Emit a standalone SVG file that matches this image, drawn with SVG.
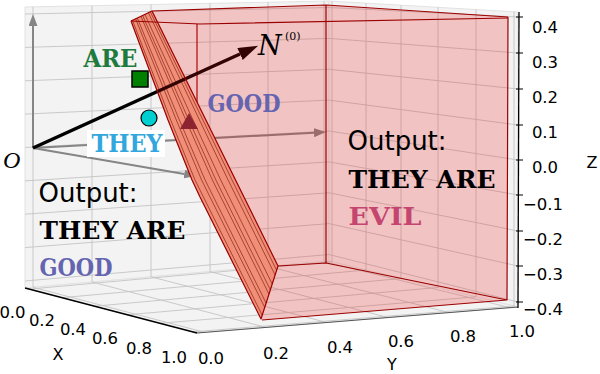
<svg xmlns="http://www.w3.org/2000/svg" width="600" height="374" viewBox="0 0 600 374">
<style>
.pane{fill:#f3f3f3;stroke:#e2e2e2;stroke-width:1}
.grid{stroke:#c4c4c4;stroke-width:0.9;fill:none}
.tick{font-family:"DejaVu Sans",sans-serif;font-size:16.5px;fill:#000;text-anchor:middle}
.axl{font-family:"DejaVu Sans",sans-serif;font-size:16px;fill:#000;text-anchor:middle}
.mono{font-family:"DejaVu Serif","Liberation Serif",serif;font-weight:bold;font-size:23.5px}
.out{font-family:"DejaVu Sans",sans-serif;font-size:26px;fill:#000}
.redge{stroke:#9b0000;stroke-width:1.2;fill:none;stroke-linejoin:round}
.stripe{stroke:#7a3a2a;stroke-width:0.8;fill:none}
.garrow{stroke:#858585;stroke-width:2;fill:none}
</style>
<defs>
<marker id="gh" markerUnits="userSpaceOnUse" markerWidth="13" markerHeight="9" refX="0" refY="4.5" orient="auto"><path d="M0,0 L12,4.5 L0,9 Z" fill="#858585"/></marker>
<marker id="kh" markerUnits="userSpaceOnUse" markerWidth="21" markerHeight="13" refX="0" refY="6.5" orient="auto"><path d="M0,0 L20,6.5 L0,13 Z" fill="#000"/></marker>
</defs>
<rect x="0" y="0" width="600" height="374" fill="#fff"/>
<g id="panes">
<polygon class="pane" points="25,7 329,1 329,261 25,288"/>
<polygon class="pane" points="329,1 518,12 518,307 329,261"/>
<polygon class="pane" points="25,288 197,333 518,307 329,261"/>
</g>
<g id="grid">
<path class="grid" d="M33,6.8V287.3M92,5.7V282M151,4.5V276.8M210,3.4V271.6M268,2.2V266.4M324,1.1V261.5"/>
<path class="grid" d="M25,281L329,254.5L518,302M25,247.6L329,223.6L518,266M25,214.2L329,192.8L518,231M25,180.9L329,161.9L518,195M25,147.5L329,131L518,160M25,114.1L329,100.1L518,125M25,80.8L329,69.3L518,89M25,47.4L329,38.4L518,53M25,14L329,7.5L518,17"/>
<path class="grid" d="M332,1.2L332,261.7M366,3.2L366,270M401,5.2L401,278.5M438,7.3L438,287.5M476,9.6L476,296.8M514,11.8L514,306"/>
<path class="grid" d="M29.3,289.1L332,261.7M62,297.7L366,270M94.7,306.2L401,278.5M127.3,314.8L438,287.5M160,323.3L476,296.8M192.7,331.9L514,306"/>
<path class="grid" d="M33,287.3L205,332.4M92,282L266,327.4M151,276.8L327,322.5M210,271.6L388,317.5M268,266.4L449,312.6M324,261.5L510,307.7"/>
</g>
<g id="axes">
<line x1="25" y1="288" x2="197" y2="333" stroke="#000" stroke-width="1.4"/>
<line x1="197" y1="333" x2="518" y2="307" stroke="#555" stroke-width="1"/>
<line x1="519" y1="12" x2="518" y2="308" stroke="#000" stroke-width="1.3"/>
<path d="M516,17H523M516,53H523M516,89H523M516,125H523M516,160H523M516,195H523M516,231H523M516,266H523M516,302H523" stroke="#000" stroke-width="1"/>
<g class="tick">
<text x="545" y="33">0.4</text><text x="545" y="68">0.3</text><text x="545" y="103">0.2</text><text x="545" y="138">0.1</text><text x="545" y="173">0.0</text>
<text x="543" y="210">−0.1</text><text x="543" y="245">−0.2</text><text x="543" y="280">−0.3</text><text x="543" y="315">−0.4</text>
<text x="12.5" y="318">0.0</text><text x="42" y="326">0.2</text><text x="73" y="335">0.4</text><text x="105" y="344">0.6</text><text x="139" y="354">0.8</text><text x="174" y="363">1.0</text>
<text x="211" y="364">0.0</text><text x="276" y="359">0.2</text><text x="340" y="353">0.4</text><text x="401" y="347">0.6</text><text x="463" y="342">0.8</text><text x="522" y="337">1.0</text>
</g>
<text class="axl" x="58" y="360">X</text>
<text class="axl" x="392" y="370">Y</text>
<text class="axl" x="592" y="168">Z</text>
</g>
<g id="connectors">
<line class="garrow" x1="33" y1="148" x2="33" y2="26" marker-end="url(#gh)"/>
<line class="garrow" x1="33" y1="148" x2="314" y2="132.7" marker-end="url(#gh)"/>
<line class="garrow" x1="33" y1="148" x2="184.2" y2="174" marker-end="url(#gh)"/>
</g>
<g id="slab">
<line class="redge" x1="197" y1="24" x2="197" y2="186"/>
<path d="M131,21L152,11L278,266L261,319L233,263L213,223L200,197L192,180L168,120Z" fill="#f2b092"/>
<path class="stripe" d="M132.5,20.3L170.7,120L195,180L262.2,315.3M135.6,18.8L176.3,120L201.6,180L264.7,307.3M137.3,18L179.4,120L205.1,180L266.1,303.1M140.9,16.3L185.8,120L212.4,180L269,294.1M142.6,15.5L188.8,120L215.9,180L270.4,289.9M144.9,14.4L193,120L220.7,180L272.2,284M148.4,12.7L199.5,120L228.1,180L275.1,275M150.3,11.8L202.9,120L232,180L276.6,270.2"/>
</g>
<g id="good-marker"><polygon points="180,129 198,129 189,113" fill="#70283a"/></g>
<g id="normal-arrow">
<line x1="33" y1="148" x2="240" y2="54" stroke="#000" stroke-width="3.5" marker-end="url(#kh)"/>
</g>
<g id="region">
<path d="M131,21L152,11L326,5L508,17L507,300L262,320L233,263L213,223L200,197L192,180L168,120Z" fill="#f01414" fill-opacity="0.21"/>
<path class="redge" d="M131,21L152,11L326,5L508,17"/>
<path class="redge" d="M131,21L200,24L508,18"/>
<path class="redge" d="M326,5L326,263M508,17L507,300"/>
<path class="redge" d="M278,266L326,263L507,300L262,320"/>
<path class="redge" d="M152,11L278,266L261,319L233,263L213,223L200,197L192,180L168,120L131,21"/>
</g>
<g id="are-marker"><rect x="132" y="71" width="16" height="16" fill="#008000" stroke="#000" stroke-width="1.5"/></g>
<g id="they-marker"><circle cx="149" cy="118" r="8" fill="#00cfcf" stroke="#000" stroke-width="1.2"/></g>
<g id="labels">
<text class="mono" x="83.5" y="67" fill="#1f7a3d" textLength="54" lengthAdjust="spacingAndGlyphs">ARE</text>
<rect x="87" y="130" width="78" height="27" fill="#fff"/>
<text class="mono" x="91.5" y="152" fill="#33a7dd" textLength="71" lengthAdjust="spacingAndGlyphs">THEY</text>
<text class="mono" x="207.5" y="112" fill="#6464b0" textLength="73" lengthAdjust="spacingAndGlyphs">GOOD</text>
<text x="258" y="55" font-family="DejaVu Serif,serif" font-style="italic" font-size="27">N</text>
<text x="285" y="40" font-family="DejaVu Serif,serif" font-size="11">(0)</text>
<text x="3" y="168" font-family="Liberation Serif,serif" font-style="italic" font-size="24">O</text>
<text class="out" x="38.5" y="202">Output:</text>
<text class="mono" x="39.5" y="239" fill="#000" textLength="146" lengthAdjust="spacingAndGlyphs">THEY ARE</text>
<text class="mono" x="39.5" y="276" fill="#6464b0" textLength="73" lengthAdjust="spacingAndGlyphs">GOOD</text>
<text class="out" x="347.5" y="150">Output:</text>
<text class="mono" x="348.5" y="188" fill="#000" textLength="147" lengthAdjust="spacingAndGlyphs">THEY ARE</text>
<text class="mono" x="348.5" y="225" fill="#c4456f" textLength="73" lengthAdjust="spacingAndGlyphs">EVIL</text>
</g>
</svg>
